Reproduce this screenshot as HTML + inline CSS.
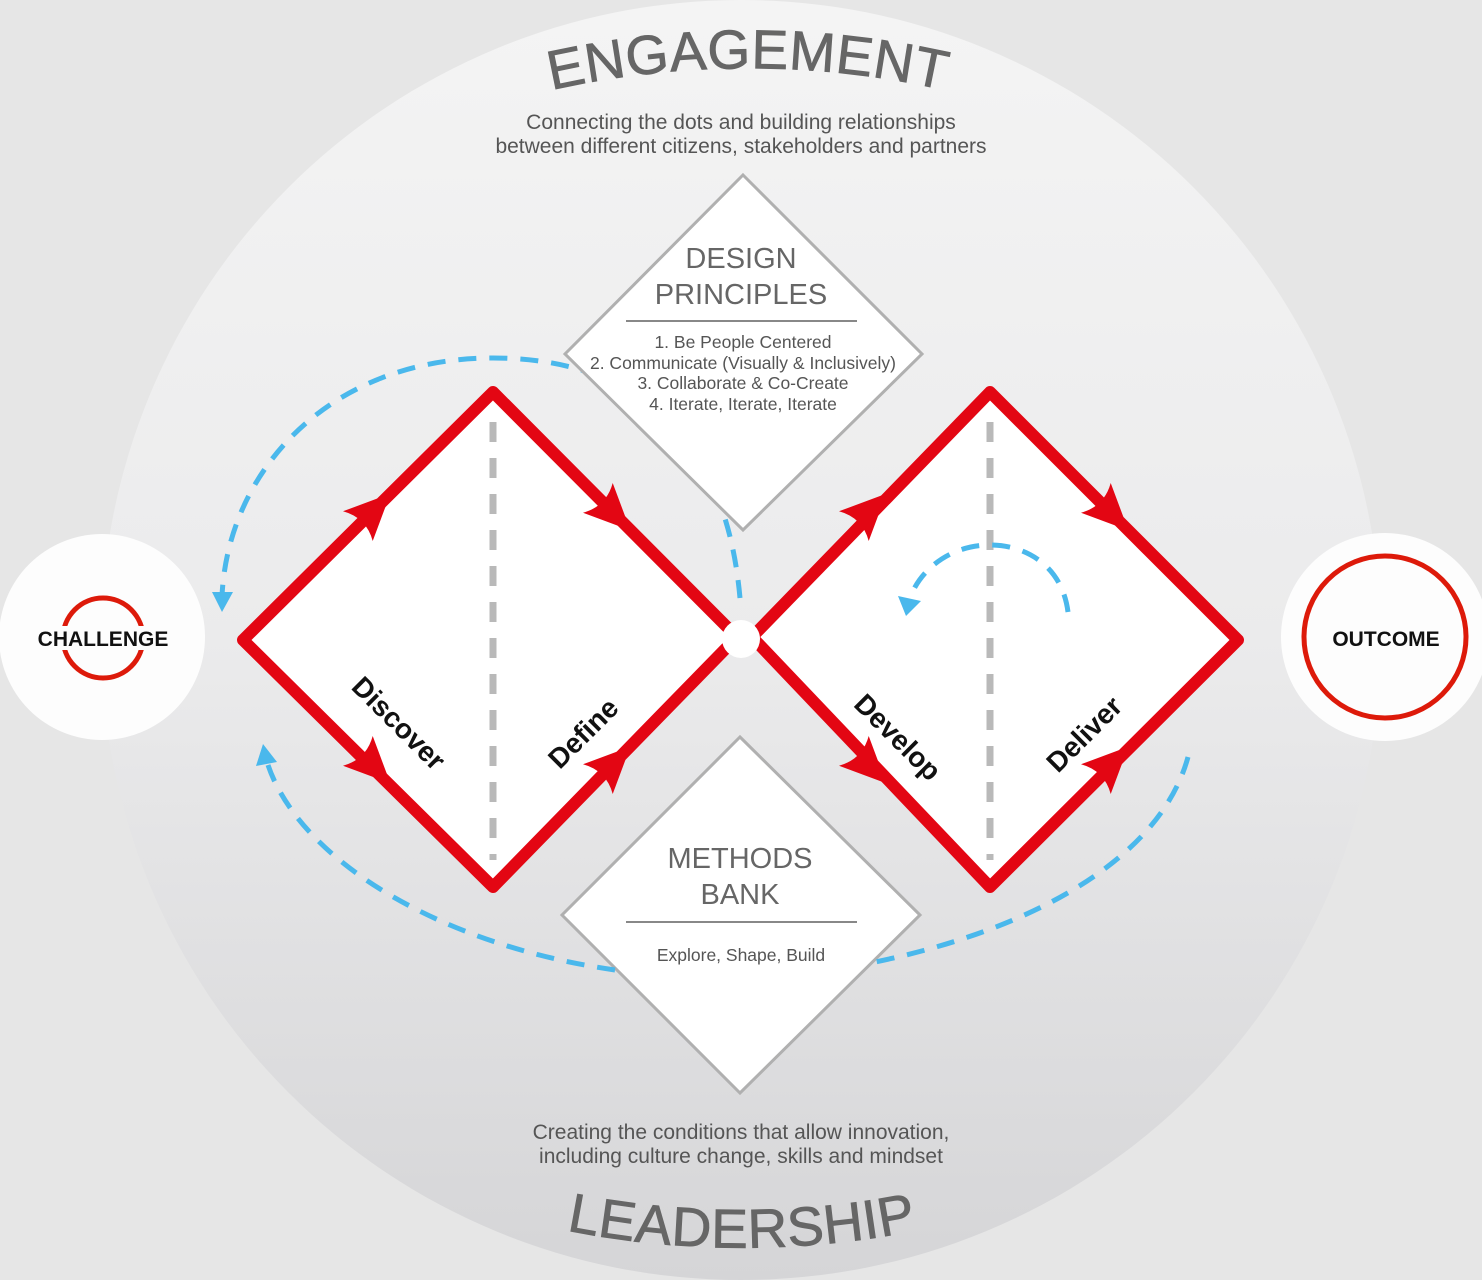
<!DOCTYPE html>
<html><head><meta charset="utf-8"><style>
html,body{margin:0;padding:0;background:#e6e6e6;}
svg{display:block;}
text{font-family:"Liberation Sans",Arial,sans-serif;}
</style></head><body>
<svg width="1482" height="1280" viewBox="0 0 1482 1280" xmlns="http://www.w3.org/2000/svg">
<defs>
<linearGradient id="bg" x1="0" y1="0" x2="0" y2="1">
<stop offset="0" stop-color="#f4f4f4"/><stop offset="0.5" stop-color="#ebebec"/><stop offset="1" stop-color="#d5d5d7"/>
</linearGradient>
<path id="arcTop" d="M 248 220 A 900 900 0 0 1 1248 220"/>
<path id="arcBot" d="M 242 1096 A 900 900 0 0 0 1242 1096"/>
<g id="ah"><path d="M 26 0 L -20 -21 Q -8 0 -20 21 Z" fill="#e30613"/></g>
</defs>
<rect width="1482" height="1280" fill="#e6e6e6"/>
<circle cx="741" cy="640" r="640" fill="url(#bg)"/>

<text font-size="55" fill="#666" text-anchor="middle" letter-spacing="0.5" stroke="#666" stroke-width="0.8"><textPath href="#arcTop" startOffset="50%">ENGAGEMENT</textPath></text>
<text font-size="55" fill="#666" text-anchor="middle" letter-spacing="0.5" stroke="#666" stroke-width="0.8"><textPath href="#arcBot" startOffset="50%">LEADERSHIP</textPath></text>

<text x="741" y="129" font-size="21" fill="#555" text-anchor="middle">Connecting the dots and building relationships</text>
<text x="741" y="153" font-size="21" fill="#555" text-anchor="middle">between different citizens, stakeholders and partners</text>
<text x="741" y="1139" font-size="21" fill="#555" text-anchor="middle">Creating the conditions that allow innovation,</text>
<text x="741" y="1163" font-size="21" fill="#555" text-anchor="middle">including culture change, skills and mindset</text>

<path d="M 740 598 C 725 430, 630 358, 493 358 C 330 358, 228 470, 222 596" fill="none" stroke="#4ab8ec" stroke-width="5" stroke-dasharray="18 13"/>
<path d="M 212 592 L 222 612 L 233 592 Z" fill="#4ab8ec"/>

<polygon points="743,175 922,354 743,530 565,354" fill="#fff" stroke="#b0b0b0" stroke-width="3"/>
<text x="741" y="268" font-size="29" fill="#666" text-anchor="middle">DESIGN</text>
<text x="741" y="304" font-size="29" fill="#666" text-anchor="middle">PRINCIPLES</text>
<line x1="626" y1="321" x2="857" y2="321" stroke="#888" stroke-width="2"/>
<g font-size="17.5" fill="#555" text-anchor="middle">
<text x="743" y="348">1. Be People Centered</text>
<text x="743" y="369">2. Communicate (Visually &amp; Inclusively)</text>
<text x="743" y="389">3. Collaborate &amp; Co-Create</text>
<text x="743" y="410">4. Iterate, Iterate, Iterate</text>
</g>

<polygon points="740,737 920,915 740,1093 562,915" fill="#fff" stroke="#b0b0b0" stroke-width="3"/>
<text x="740" y="868" font-size="29" fill="#666" text-anchor="middle">METHODS</text>
<text x="740" y="904" font-size="29" fill="#666" text-anchor="middle">BANK</text>
<line x1="626" y1="922" x2="857" y2="922" stroke="#888" stroke-width="2"/>
<text x="741" y="961" font-size="17.5" fill="#555" text-anchor="middle">Explore, Shape, Build</text>

<path d="M 615 970 C 440 945, 300 860, 268 765" fill="none" stroke="#4ab8ec" stroke-width="5" stroke-dasharray="18 13"/>
<path d="M 256 766 L 263 744 L 277 762 Z" fill="#4ab8ec"/>
<path d="M 1188 757 C 1160 860, 1030 930, 875 962" fill="none" stroke="#4ab8ec" stroke-width="5" stroke-dasharray="18 13"/>

<polygon points="243,640 493,392 737,637 493,887" fill="#fff" stroke="#e30613" stroke-width="12" stroke-linejoin="round"/>
<polygon points="752,637 990,392 1238,640 990,887" fill="#fff" stroke="#e30613" stroke-width="12" stroke-linejoin="round"/>
<circle cx="741" cy="639" r="19" fill="#fff"/>

<line x1="493" y1="422" x2="493" y2="860" stroke="#b9b9b9" stroke-width="7" stroke-dasharray="20 16"/>
<line x1="990" y1="422" x2="990" y2="860" stroke="#b9b9b9" stroke-width="7" stroke-dasharray="20 16"/>

<path d="M 1068 612 C 1062 565, 1025 545, 990 545 C 950 545, 920 570, 910 598" fill="none" stroke="#4ab8ec" stroke-width="5" stroke-dasharray="18 13"/>
<path d="M 898 596 L 906 616 L 921 601 Z" fill="#4ab8ec"/>

<use href="#ah" transform="translate(372,512) rotate(-45)"/>
<use href="#ah" transform="translate(612,512) rotate(45)"/>
<use href="#ah" transform="translate(372,765) rotate(45)"/>
<use href="#ah" transform="translate(612,765) rotate(-45)"/>
<use href="#ah" transform="translate(868,512) rotate(-45)"/>
<use href="#ah" transform="translate(1110,512) rotate(45)"/>
<use href="#ah" transform="translate(868,765) rotate(45)"/>
<use href="#ah" transform="translate(1110,765) rotate(-45)"/>

<g font-size="28" font-weight="bold" fill="#111" text-anchor="middle">
<text transform="translate(392,730) rotate(45)">Discover</text>
<text transform="translate(590,740) rotate(-45)">Define</text>
<text transform="translate(891,744) rotate(45)">Develop</text>
<text transform="translate(1091,741) rotate(-45)">Deliver</text>
</g>

<circle cx="102" cy="637" r="103" fill="#fdfdfd"/>
<circle cx="103" cy="638" r="40" fill="none" stroke="#dd1a0a" stroke-width="5"/>
<rect x="34" y="626" width="138" height="24" fill="#fdfdfd"/>
<text x="103" y="646" font-size="21" font-weight="bold" fill="#111" text-anchor="middle">CHALLENGE</text>
<circle cx="1385" cy="637" r="104" fill="#fdfdfd"/>
<circle cx="1385" cy="637" r="81" fill="none" stroke="#dd1a0a" stroke-width="5"/>
<text x="1386" y="646" font-size="21" font-weight="bold" fill="#111" text-anchor="middle">OUTCOME</text>
</svg>
</body></html>
